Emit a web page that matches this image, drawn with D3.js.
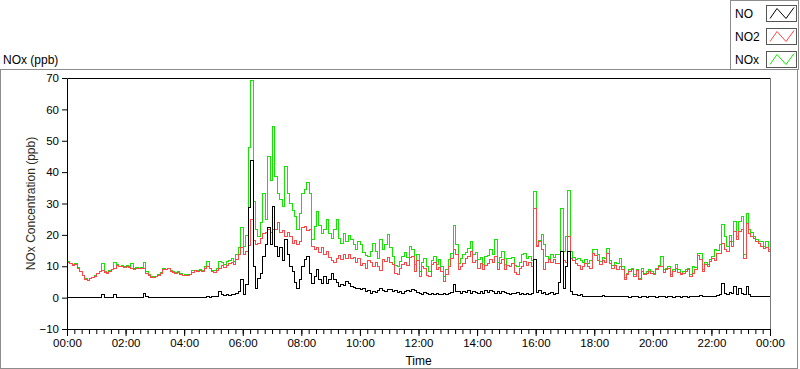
<!DOCTYPE html>
<html>
<head>
<meta charset="utf-8">
<script src="https://cdn.jsdelivr.net/npm/d3@7"></script>
<style>
    body { margin: 0; background: #fff; }
    svg { display: block; font-family: "Liberation Sans", Arial, sans-serif; }
</style>
</head>
<body>
<div id="chart"></div>
<script>
// Data: one sample every 5 minutes, 00:00 .. 24:00 (12 values per hour + final)
const sampleMinutes = 5;
const seriesNames = ['NO', 'NO2', 'NOx'];

const no2 = [
    11.5, 11, 10.5, 10.8, 9.5, 8.5, 7.2, 6, 5.6, 6.2, 6.5, 7,            // 00
    7.8, 8.5, 8.8, 8.2, 8, 8.6, 9, 9.5, 10.5, 10, 10.2, 9.8,             // 01
    10.2, 9.8, 9.6, 9.2, 9.5, 9.3, 9.4, 9.6, 8, 7.2, 6.7, 6.5,           // 02
    6.8, 7.2, 8, 9.2, 9, 9.3, 8.6, 8.3, 8, 8.2, 7.6, 7.2,                // 03
    7.3, 7.2, 7.5, 8.3, 8.7, 8.5, 8.8, 8.6, 9.6, 10.2, 9.3, 8.4,         // 04
    8.3, 8.8, 9.6, 10.4, 9.8, 10.5, 11, 11.2, 10.6, 12.3, 13.8, 16,      // 05
    13.8, 15, 16.8, 25, 18.5, 17, 17.5, 19, 20.5, 20.8, 22, 21,          // 06
    21.8, 22, 24, 20.8, 21.5, 19.8, 21, 19.5, 17.5, 18.5, 17, 18.2,      // 07
    22.5, 22.8, 21.5, 22, 16.4, 15.4, 16.2, 14.6, 16, 14, 15, 13,        // 08
    12, 11.2, 12.5, 13.5, 12.2, 14, 12.6, 13.8, 12.5, 13, 11.5, 12.5,    // 09
    10.5, 11, 9.5, 12, 11.2, 10.2, 11.5, 10, 8.8, 12.2, 11.8, 12.8,      // 10
    11.5, 10.8, 8, 7.4, 9.5, 10.8, 11.2, 10.5, 12.8, 13.2, 8.4, 12,      // 11
    6.8, 10, 9.5, 7.2, 6.8, 10.6, 11.5, 9, 9.8, 8.5, 5.2, 7.5,           // 12
    10, 12.7, 15.4, 13.8, 9, 10.2, 11, 12.5, 13.2, 14.8, 11.5, 12,       // 13
    9.5, 11, 9, 10.5, 11, 12.2, 11.5, 13.2, 9, 11, 12.2, 9,              // 14
    10.5, 10, 11, 8.2, 7.4, 9.5, 10, 11.6, 10.5, 11.2, 10, 28.5,         // 15
    16.4, 18, 15.4, 9, 11.5, 12.2, 11.5, 12.2, 11.1, 11, 15, 12,         // 16
    11.5, 19.6, 12.7, 12, 11, 10.4, 9, 10.2, 11, 10.2, 9.5, 14.2,        // 17
    13.5, 12, 10.6, 12, 11.5, 14.2, 11, 9.6, 10.5, 9, 10.2, 9,           // 18
    5.8, 7.4, 8.5, 9.2, 7, 8.9, 5.8, 8.4, 7.4, 8, 8.4, 7.8,              // 19
    7.4, 9, 10, 10, 8.2, 9, 9.5, 6.8, 8.5, 9.5, 8.2, 7.4,                // 20
    8, 8.4, 9, 6.8, 8, 9.2, 13.5, 12.2, 8.4, 10.6, 10, 11.6,             // 21
    12.7, 12, 14.3, 14.3, 17.5, 15.4, 15, 18, 16.5, 21.2, 18.6, 21.2,    // 22
    22, 12.7, 23.9, 20.7, 19.8, 19.1, 18.2, 17.5, 16.4, 15.9, 16.2, 14.8,// 23
    15.4
];

const no = [
    0.2, 0.1, 0.2, 0.1, 0.2, 0.1, 0.1, 0.2, 0.1, 0.2, 0.1, 0.2,          // 00
    0.2, 0.1, 1, 0.2, 0.2, 0.3, 0.2, 1, 0.3, 0.2, 0.2, 0.3,              // 01
    0.2, 0.2, 0.3, 0.2, 0.2, 0.2, 0.3, 1.5, 0.4, 0.3, 0.2, 0.3,          // 02
    0.2, 0.2, 0.3, 0.2, 0.2, 0.1, 0.2, 0.2, 0.1, 0.2, 0.2, 0.1,          // 03
    0.2, 0.2, 0.1, 0.3, 0.2, 0.2, 0.3, 0.2, 0.3, 0.5, 0.3, 0.5,          // 04
    0.6, 0.5, 2, 1, 0.8, 1.2, 0.9, 1.3, 1, 1.5, 2.2, 5.8,                // 05
    1.2, 4.2, 29, 44, 10, 3.2, 6.4, 8, 13.2, 17, 22.4, 17,               // 06
    29.2, 16.4, 13.2, 16, 12, 18.6, 14, 10, 8.4, 5, 3.1, 6,              // 07
    10, 12.2, 13.2, 7.9, 4.8, 7, 9, 6, 4.8, 6.8, 4.8, 6,                 // 08
    7.9, 6, 5, 3.6, 4.5, 4, 5.2, 4.6, 3.8, 3.5, 3, 3.2,                  // 09
    2.6, 3, 2.2, 2.5, 1.5, 2, 1.8, 2.5, 3.1, 2.5, 2, 2.8,                // 10
    2.6, 2.2, 2.5, 1.8, 2, 1.6, 2, 2.4, 2.2, 2.8, 2.5, 1.8,              // 11
    1.5, 1.2, 1.8, 1.5, 1, 1.6, 1.3, 1.5, 1.2, 1, 1.4, 1.2,              // 12
    1.5, 1.8, 4.2, 2.2, 2, 1.5, 2.2, 1.8, 2.5, 1.6, 2.2, 1.8,            // 13
    1.6, 2, 1.5, 2.4, 1.8, 2.5, 2, 1.6, 2.2, 1.5, 2.2, 1.8,              // 14
    1.5, 1.2, 1.6, 1.4, 1.8, 1.2, 1.5, 1.3, 1.6, 1.2, 1.4, 12.2,         // 15
    1.8, 2.5, 1.5, 1.8, 1.2, 1.5, 1.8, 1.2, 1.5, 5, 14.8, 3,             // 16
    10, 14.8, 2, 1.2, 1, 0.8, 1, 0.5, 0.6, 0.4, 0.6, 0.5,                // 17
    0.5, 0.6, 0.4, 0.8, 0.5, 0.4, 0.6, 0.5, 0.4, 0.6, 0.5, 0.4,          // 18
    0.4, 0.5, 0.3, 0.6, 0.4, 0.5, 0.3, 0.4, 0.5, 0.3, 0.4, 0.5,          // 19
    0.4, 0.3, 0.5, 0.4, 0.6, 0.3, 0.4, 0.5, 0.3, 0.4, 0.6, 0.3,          // 20
    0.4, 0.5, 0.3, 0.4, 0.5, 0.6, 0.4, 0.7, 0.5, 0.4, 0.6, 0.5,          // 21
    0.6, 0.5, 0.8, 1.2, 4.7, 1.5, 1.2, 1.8, 1.5, 3.6, 1.2, 3.2,          // 22
    1.5, 1.2, 3.8, 1.2, 0.6, 0.5, 0.4, 0.6, 0.5, 0.4, 0.5, 0.6,          // 23
    0.5
];

const nox = [
    11.7, 11.1, 10.7, 10.9, 9.7, 8.6, 7.3, 6.2, 5.7, 6.4, 6.6, 7.2,      // 00
    8, 8.6, 10.9, 8.4, 8.2, 8.9, 9.2, 11.5, 10.8, 10.2, 10.4, 10.1,      // 01
    10.4, 10, 10.9, 9.4, 9.7, 9.5, 9.7, 11.5, 8.4, 7.5, 6.9, 6.8,        // 02
    7, 7.4, 8.3, 9.6, 9.2, 9.5, 8.8, 8.5, 8.2, 8.4, 7.8, 7.3,            // 03
    7.5, 7.4, 7.6, 8.9, 8.9, 8.7, 9.1, 8.8, 10.2, 11.6, 9.6, 8.9,        // 04
    8.9, 9.3, 11.8, 11.4, 10.6, 11.7, 11.9, 12.5, 11.6, 13.8, 16, 22.4,  // 05
    16.4, 20, 48, 69.4, 30.8, 21.8, 19.6, 24, 33.5, 25, 45.2, 37.5,      // 06
    54.8, 38.8, 33.5, 31.4, 29.2, 42, 33.5, 30.3, 28, 26, 21.8, 27,      // 07
    33.5, 34.6, 36.7, 33.5, 18.6, 22.8, 27.6, 23, 20.7, 22, 25, 20.7,    // 08
    19, 22, 25, 19, 17.5, 20.7, 18, 20, 18.6, 17, 15.5, 18,              // 09
    17, 14.5, 13.5, 13.2, 15, 17.5, 14.8, 12.5, 18.6, 15.4, 17, 20.2,    // 10
    16, 13.2, 10.5, 10, 11.8, 13.2, 14.4, 13, 16.4, 15.5, 10.8, 14,      // 11
    8.5, 11.2, 12.7, 10, 8.5, 12, 13.2, 10.8, 12.2, 10, 6.8, 9,          // 12
    12.2, 14.3, 23, 17, 11.1, 12.5, 13.8, 14.5, 15.9, 18, 14, 14.5,      // 13
    12.2, 13, 10.6, 13.2, 13.5, 15.4, 14, 18.8, 11.5, 13, 14.8, 10.6,    // 14
    12.5, 12.7, 13, 10.4, 10, 11.5, 13.8, 14.3, 12.5, 13.2, 12, 34,      // 15
    16.9, 18.5, 20.2, 17, 13.2, 12.5, 13.8, 13, 13.8, 14, 28.5, 15,      // 16
    19.6, 34.2, 15, 13, 12.2, 12.5, 12, 11.5, 12.2, 11, 12, 15.4,        // 17
    15.4, 14, 11.6, 12.8, 12.5, 15.9, 12, 10.5, 11.2, 11, 12.7, 10,      // 18
    6.5, 8, 9.2, 9.5, 7.5, 9.2, 6.3, 9.5, 8, 8.6, 9, 8.4,                // 19
    8, 9.5, 10.5, 13.2, 9, 9.5, 10, 7.4, 9.2, 10.6, 9, 8,                // 20
    8.6, 9, 9.5, 7.4, 10, 9.8, 14.3, 14.3, 9, 11.2, 10.6, 12.2,          // 21
    13.4, 15.4, 15.2, 17, 23.4, 19.5, 16.6, 20, 18, 24.4, 19.8, 24.4,    // 22
    26, 14, 26.9, 22, 21, 19.6, 18.6, 18, 18, 16.5, 18, 15.5,            // 23
    17
];

const xTickLabels = ['00:00', '02:00', '04:00', '06:00', '08:00', '10:00', '12:00',
                     '14:00', '16:00', '18:00', '20:00', '22:00', '00:00'];
const yTicks = [-10, 0, 10, 20, 30, 40, 50, 60, 70];

// Layout
const W = 800, H = 369;
const plot = { left: 67, right: 770, top: 78, bottom: 329 };
const colors = { NO: '#000000', NO2: '#ff4646', NOx: '#12e600' };

const svg = d3.select('#chart').append('svg')
    .attr('width', W)
    .attr('height', H);

const x = d3.scaleLinear([0, 24 * 60], [plot.left, plot.right]);
const y = d3.scaleLinear([-10, 70], [plot.bottom, plot.top]);

// outer frame
svg.append('rect')
    .attr('x', 0.5).attr('y', 69.5)
    .attr('width', 797).attr('height', 299)
    .attr('fill', 'none')
    .attr('stroke', '#8c8c8c');

// chart title
svg.append('text')
    .attr('x', 3).attr('y', 64)
    .style('font-size', '12px')
    .text('NOx (ppb)');

// plot area
svg.append('defs').append('clipPath').attr('id', 'clip')
    .append('rect')
    .attr('x', plot.left).attr('y', plot.top)
    .attr('width', plot.right - plot.left + 1).attr('height', plot.bottom - plot.top + 1);

let lines = svg.append('g')
    .attr('clip-path', 'url(#clip)')
    .attr('transform', 'translate(0.5,0.5)');

let series = [
    { name: 'NOx', values: nox },
    { name: 'NO2', values: no2 },
    { name: 'NO', values: no }
];

let lineGen = d3.line()
    .x((d, i) => x(i * sampleMinutes))
    .y(d => Math.round(y(d)))
    .curve(d3.curveStepAfter);

lines.selectAll('path.series')
    .data(series)
    .join('path')
    .classed('series', true)
    .attr('d', d => lineGen(d.values))
    .attr('fill', 'none')
    .attr('stroke', d => colors[d.name])
    .attr('stroke-width', 1)
    .attr('shape-rendering', 'crispEdges');

// plot border
svg.append('path')
    .attr('d', `M${plot.right + 0.5},${plot.top + 0.5}H${plot.left + 0.5}V${plot.bottom + 0.5}H${plot.right + 0.5}`)
    .attr('fill', 'none')
    .attr('stroke', '#000');
svg.append('line')
    .attr('x1', plot.right + 0.5).attr('x2', plot.right + 0.5)
    .attr('y1', plot.top).attr('y2', plot.bottom + 1)
    .attr('stroke', '#7a7a7a');

// y axis
let axisY = svg.append('g')
    .attr('transform', `translate(${plot.left},0)`)
    .call(d3.axisLeft(y).tickValues(yTicks).tickSize(5).tickPadding(3));
axisY.select('.domain').remove();
axisY.selectAll('text').style('font-size', '11.5px').attr('fill', '#000').style('font-family', null);
axisY.attr('font-family', null);

// x axis: minor ticks every 15 min, major every 2 h
let axisXMinor = svg.append('g')
    .attr('transform', `translate(0,${plot.bottom})`)
    .call(d3.axisBottom(x).tickValues(d3.range(0, 24 * 60 + 1, 15)).tickSize(5).tickFormat(''));
axisXMinor.select('.domain').remove();

let axisX = svg.append('g')
    .attr('transform', `translate(0,${plot.bottom})`)
    .call(d3.axisBottom(x)
        .tickValues(xTickLabels.map((_, i) => i * 120))
        .tickSize(7).tickPadding(3)
        .tickFormat((_, i) => xTickLabels[i]));
axisX.select('.domain').remove();
axisX.attr('font-family', null);
axisX.selectAll('text').style('font-size', '11.5px').attr('fill', '#000');

// axis titles
svg.append('text')
    .attr('transform', `translate(35, ${(plot.top + plot.bottom) / 2}) rotate(-90)`)
    .attr('text-anchor', 'middle')
    .style('font-size', '12px')
    .attr('fill', '#2b2b1a')
    .text('NOx Concentration (ppb)');

svg.append('text')
    .attr('x', (plot.left + plot.right) / 2)
    .attr('y', 365)
    .attr('text-anchor', 'middle')
    .style('font-size', '12px')
    .text('Time');

// legend
let legend = svg.append('g').classed('legend', true);
legend.append('rect')
    .attr('x', 730.5).attr('y', 0.5)
    .attr('width', 68).attr('height', 69)
    .attr('fill', '#fff')
    .attr('stroke', '#8c8c8c');

let items = legend.selectAll('g.legend-item')
    .data(seriesNames)
    .join('g')
    .classed('legend-item', true)
    .attr('transform', (_, i) => `translate(0, ${i * 23})`);

items.append('text')
    .attr('x', 735).attr('y', 17.5)
    .style('font-size', '12px')
    .text(d => d);

items.append('rect')
    .attr('x', 766.5).attr('y', 5.5)
    .attr('width', 30).attr('height', 16)
    .attr('fill', '#fff')
    .attr('stroke', '#555');

let zigzag = [[3, 13], [10, 3], [19, 13], [27, 2]];
items.append('path')
    .attr('transform', 'translate(767, 5.5)')
    .attr('d', d3.line()(zigzag))
    .attr('fill', 'none')
    .attr('stroke', d => colors[d]);
</script>
</body>
</html>
